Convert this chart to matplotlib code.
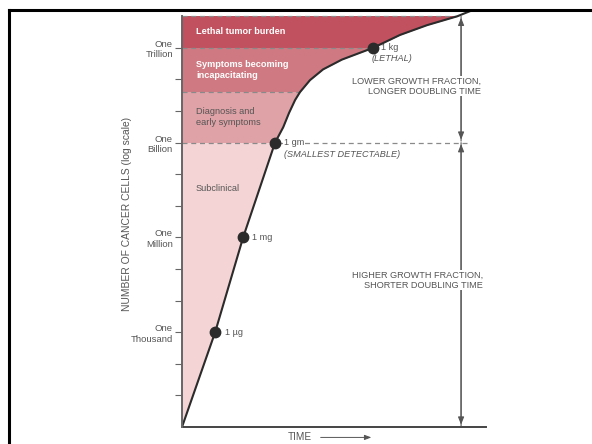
import numpy as np
import matplotlib
matplotlib.use("Agg")
import matplotlib.pyplot as plt
from matplotlib.lines import Line2D

plt.rcParams['font.family'] = ['Liberation Sans', 'DejaVu Sans']

''' Data read off the picture '''
# growth curve: time (arbitrary units) and log10 of the number of cells
curve_time = [0.0, 1.09, 2.01, 3.06, 3.33, 3.52, 3.72, 3.88, 4.21, 4.64, 5.26,
              6.28, 7.17, 8.06, 9.05, 9.57]
curve_log = [0.0, 3.0, 6.0, 9.0, 9.49, 9.94, 10.35, 10.6, 10.98, 11.32, 11.63,
             12.0, 12.41, 12.72, 13.0, 13.2]

# milestones along the curve
mile_time = [1.09, 2.01, 3.06, 6.28]
mile_log = [3, 6, 9, 12]
mile_names = ["1 \u00b5g", "1 mg", "1 gm", "1 kg"]

# stages (lower and upper log10 bound)
band_names = ["Subclinical", "Diagnosis and\nearly symptoms",
              "Symptoms becoming\nincapacitating", "Lethal tumor burden"]
band_low = [0, 9, 10.6, 12]
band_high = [9, 10.6, 12, 13]
band_colors = ["#f5d4d5", "#dfa2a6", "#cf7a82", "#c1515f"]
band_text = ["#555555", "#555555", "white", "white"]
band_bold = ["normal", "normal", "bold", "bold"]

tick_logs = list(range(1, 13))
tick_names = {3: "One\nThousand", 6: "One\nMillion", 9: "One\nBillion", 12: "One\nTrillion"}

cells = [10 ** v for v in curve_log]

fig = plt.figure(figsize=(5.92, 4.44), dpi=100)
ax = fig.add_axes([182 / 592, 1 - 427 / 444, 304 / 592, 417 / 444])
ax.set_yscale("log")
ax.set_xlim(0, 10)
ax.set_ylim(1, 10 ** 13.2)

# stage bands, then white out everything right of the curve
for lo, hi, c in zip(band_low, band_high, band_colors):
    ax.axhspan(10 ** lo, 10 ** hi, color=c, lw=0, zorder=1)
ax.fill_betweenx(cells, curve_time, 10, color="white", lw=0, zorder=2)

# dashed stage borders, each ending at the curve
for b in [10.6, 12, 13]:
    ax.plot([0, np.interp(b, curve_log, curve_time)], [10 ** b, 10 ** b],
            ls=(0, (4, 3)), color="#8a8a8a", lw=0.9, zorder=3)
ax.plot([0, 9.47], [1e9, 1e9], ls=(0, (4, 3)), color="#8a8a8a", lw=0.9, zorder=3)

ax.plot(curve_time, cells, color="#2b2b2b", lw=1.5, zorder=4)
ax.plot(mile_time, [10 ** v for v in mile_log], "o", color="#2b2b2b", ms=7.5, zorder=5)

fs = 6.6
kw = dict(fontsize=fs, color="#555555", va="center", zorder=6)
white = dict(facecolor="white", edgecolor="none", pad=0.5)
ax.text(1.41, 1e3, mile_names[0], **kw)
ax.text(2.30, 1e6, mile_names[1], **kw)
ax.text(3.36, 1e9, mile_names[2], bbox=white, **kw)
ax.text(6.55, 1e12, mile_names[3], **kw)
ax.text(3.36, 10 ** 8.64, "(SMALLEST DETECTABLE)", style="italic", **kw)
ax.text(6.25, 10 ** 11.66, "(LETHAL)", style="italic", **kw)

band_y = [7.56, 9.81, 11.30, 12.53]
for name, y, tc, fw in zip(band_names, band_y, band_text, band_bold):
    ax.text(0.46, 10 ** y, name, fontsize=fs, color=tc, fontweight=fw,
            va="center", linespacing=1.2, zorder=6)

# doubling time arrows
arr = dict(arrowstyle="-|>,head_length=0.45,head_width=0.18", color="#555555", lw=0.8,
           shrinkA=0, shrinkB=1)
for a, b in [(13, 9.05), (9.05, 13), (9, 0.03), (0.03, 9)]:
    ax.annotate("", xy=(9.18, 10 ** b), xytext=(9.18, 10 ** a), arrowprops=arr, zorder=6)
ax.text(9.84, 10 ** 10.79, "LOWER GROWTH FRACTION,\nLONGER DOUBLING TIME", ha="right",
        va="center", fontsize=fs, color="#555555", linespacing=1.2,
        bbox=dict(facecolor="white", edgecolor="none", pad=0.3), zorder=7)
ax.text(9.9, 10 ** 4.65, "HIGHER GROWTH FRACTION,\nSHORTER DOUBLING TIME", ha="right",
        va="center", fontsize=fs, color="#555555", linespacing=1.2,
        bbox=dict(facecolor="white", edgecolor="none", pad=0.3), zorder=7)

# axes
for s in ["top", "right"]:
    ax.spines[s].set_visible(False)
ax.spines["left"].set_bounds(1, 1e13)
ax.spines["left"].set_color("#666666")
ax.spines["bottom"].set_color("#444444")
ax.spines["left"].set_linewidth(1.4)
ax.spines["bottom"].set_linewidth(1.4)
ax.spines["left"].set_zorder(8)
ax.set_xticks([])
ax.set_yticks([10 ** v for v in tick_logs])
ax.set_yticklabels([tick_names.get(v, "") for v in tick_logs])
ax.yaxis.set_minor_locator(matplotlib.ticker.NullLocator())
ax.tick_params(axis="y", length=5, width=0.8, color="#666666", labelsize=6.8,
               labelcolor="#555555", pad=1.5)
for t in ax.get_yticklabels():
    t.set_linespacing(1.2)
ax.text(-0.18, 0.51, "NUMBER OF CANCER CELLS (log scale)", rotation=90, fontsize=7.4,
        color="#555555", ha="center", va="center", transform=ax.transAxes)
ax.text(0.349, -0.025, "TIME", fontsize=7.2, color="#555555", va="center",
        transform=ax.transAxes)
ax.annotate("", xy=(0.632, -0.025), xytext=(0.447, -0.025), xycoords="axes fraction",
            arrowprops=dict(arrowstyle="-|>,head_length=0.4,head_width=0.15",
                            color="#555555", lw=0.7), annotation_clip=False)

# outer frame (top and left edges)
fig.add_artist(Line2D([9 / 592, 1], [1 - 10 / 444] * 2, color="black", lw=2.2,
                      transform=fig.transFigure))
fig.add_artist(Line2D([9 / 592] * 2, [0, 1 - 10 / 444], color="black", lw=2.2,
                      transform=fig.transFigure))

fig.savefig("out.png", dpi=100)
